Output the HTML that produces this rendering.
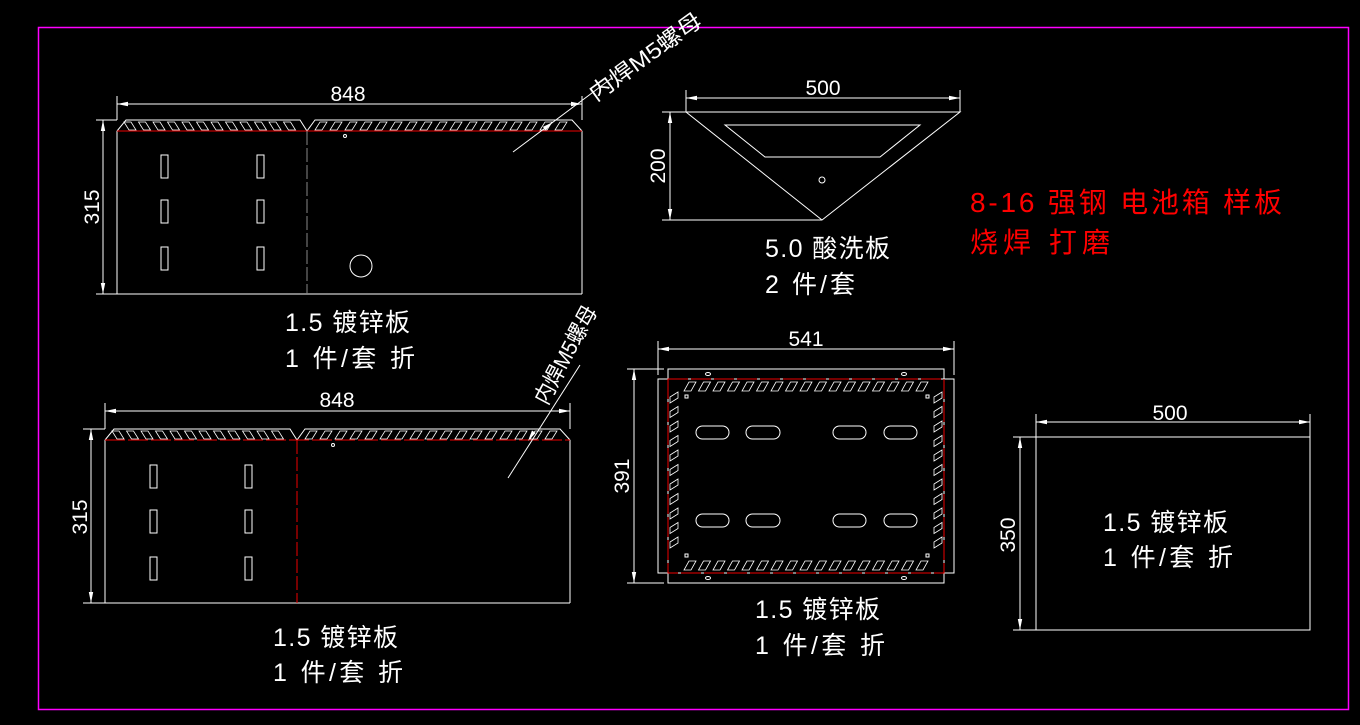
<!DOCTYPE html>
<html><head><meta charset="utf-8"><style>
html,body{margin:0;padding:0;background:#000;width:1360px;height:725px;overflow:hidden}
svg{display:block}
text{font-family:"Liberation Sans","Noto Sans CJK SC",sans-serif;fill:#fff}
</style></head><body>
<svg id="s" width="1360" height="725" viewBox="0 0 1360 725" xmlns="http://www.w3.org/2000/svg">
<rect x="0" y="0" width="1360" height="725" fill="#000"/>
<rect x="38.5" y="27.5" width="1310" height="682" fill="none" stroke="#ff00ff" stroke-width="1.5"/>
<g stroke="#fff" stroke-width="1" fill="none" id="w">
<polyline points="117,131 126,120 300,120 307,131 315,120 572,120 582,131"/>
<line x1="117" y1="131" x2="117" y2="294"/><line x1="582" y1="131" x2="582" y2="294"/>
<line x1="117" y1="294" x2="582" y2="294"/>
<line x1="117" y1="131" x2="582" y2="131" stroke="#e00"/>
<line x1="307" y1="131" x2="307" y2="294" stroke="#888" stroke-dasharray="14,3"/>
<rect x="161" y="155" width="7" height="23"/><rect x="257" y="155" width="7" height="23"/>
<rect x="161" y="200" width="7" height="23"/><rect x="257" y="200" width="7" height="23"/>
<rect x="161" y="247" width="7" height="23"/><rect x="257" y="247" width="7" height="23"/>
<circle cx="361" cy="266" r="11"/><circle cx="345" cy="136" r="1.5"/>
<line x1="117" y1="96" x2="117" y2="120"/><line x1="582" y1="96" x2="582" y2="120"/>
<line x1="117" y1="104" x2="582" y2="104"/>
<line x1="96" y1="120" x2="117" y2="120"/><line x1="96" y1="294" x2="117" y2="294"/>
<line x1="103" y1="120" x2="103" y2="294"/>
<line x1="513" y1="152" x2="612" y2="78"/>
<polyline points="105,440 114,429 290,429 297,440 305,429 560,429 570,440"/>
<line x1="105" y1="440" x2="105" y2="603"/><line x1="570" y1="440" x2="570" y2="603"/>
<line x1="105" y1="603" x2="570" y2="603"/>
<line x1="105" y1="440" x2="570" y2="440" stroke="#e00" stroke-dasharray="20,3"/>
<line x1="297" y1="440" x2="297" y2="603" stroke="#e00" stroke-dasharray="14,3"/>
<rect x="150" y="465" width="7" height="23"/><rect x="245" y="465" width="7" height="23"/>
<rect x="150" y="510" width="7" height="23"/><rect x="245" y="510" width="7" height="23"/>
<rect x="150" y="557" width="7" height="23"/><rect x="245" y="557" width="7" height="23"/>
<circle cx="333" cy="445" r="1.5"/>
<line x1="105" y1="403" x2="105" y2="429"/><line x1="570" y1="403" x2="570" y2="429"/>
<line x1="105" y1="411" x2="570" y2="411"/>
<line x1="83" y1="429" x2="105" y2="429"/><line x1="83" y1="603" x2="105" y2="603"/>
<line x1="91" y1="429" x2="91" y2="603"/>
<line x1="508" y1="478" x2="580" y2="365"/>
<polygon points="686,112 960,112 822,220"/>
<polygon points="725,125 920,125 880,157 765,157"/>
<circle cx="822" cy="180" r="3"/>
<line x1="686" y1="90" x2="686" y2="112"/><line x1="960" y1="90" x2="960" y2="112"/>
<line x1="686" y1="98" x2="960" y2="98"/>
<line x1="662" y1="112" x2="686" y2="112"/><line x1="662" y1="220" x2="822" y2="220"/>
<line x1="670" y1="112" x2="670" y2="220"/>
<rect x="668" y="369" width="276" height="214"/>
<rect x="658" y="379" width="296" height="194"/>
<rect x="668" y="379" width="276" height="194" stroke="#e00" stroke-dasharray="20,3"/>
<rect x="696" y="426" width="33" height="13" rx="6.5"/><rect x="746" y="426" width="34" height="13" rx="6.5"/>
<rect x="833" y="426" width="33" height="13" rx="6.5"/><rect x="884" y="426" width="33" height="13" rx="6.5"/>
<rect x="696" y="514" width="33" height="13" rx="6.5"/><rect x="746" y="514" width="34" height="13" rx="6.5"/>
<rect x="833" y="514" width="33" height="13" rx="6.5"/><rect x="884" y="514" width="33" height="13" rx="6.5"/>
<ellipse cx="708" cy="374" rx="2.5" ry="1.5"/><ellipse cx="904" cy="374" rx="2.5" ry="1.5"/>
<ellipse cx="708" cy="578" rx="2.5" ry="1.5"/><ellipse cx="904" cy="578" rx="2.5" ry="1.5"/>
<rect x="685" y="395" width="3" height="3"/><rect x="926" y="395" width="3" height="3"/>
<rect x="685" y="554" width="3" height="3"/><rect x="926" y="554" width="3" height="3"/>
<line x1="658" y1="341" x2="658" y2="375"/><line x1="954" y1="341" x2="954" y2="375"/>
<line x1="658" y1="349" x2="954" y2="349"/>
<line x1="627" y1="369" x2="664" y2="369"/><line x1="627" y1="583" x2="664" y2="583"/>
<line x1="634" y1="369" x2="634" y2="583"/>
<rect x="1036" y="437" width="274" height="193"/>
<line x1="1036" y1="414" x2="1036" y2="437"/><line x1="1310" y1="414" x2="1310" y2="437"/>
<line x1="1036" y1="422" x2="1310" y2="422"/>
<line x1="1013" y1="437" x2="1036" y2="437"/><line x1="1013" y1="630" x2="1036" y2="630"/>
<line x1="1020" y1="437" x2="1020" y2="630"/>
</g>
<g id="h" stroke="#fff" stroke-width="0.8" fill="none"></g>
<g id="a" fill="#fff"></g>
<g font-size="21">
<text x="348" y="101" text-anchor="middle">848</text>
<text x="337" y="407" text-anchor="middle">848</text>
<text x="823" y="95" text-anchor="middle">500</text>
<text x="806" y="346" text-anchor="middle">541</text>
<text x="1170" y="420" text-anchor="middle">500</text>
<text transform="translate(99,207) rotate(-90)" text-anchor="middle">315</text>
<text transform="translate(87,517) rotate(-90)" text-anchor="middle">315</text>
<text transform="translate(665,166) rotate(-90)" text-anchor="middle">200</text>
<text transform="translate(629,476) rotate(-90)" text-anchor="middle">391</text>
<text transform="translate(1015,535) rotate(-90)" text-anchor="middle">350</text>
</g>
<g font-size="22">
<text transform="translate(596,102) rotate(-36)" textLength="133" lengthAdjust="spacingAndGlyphs">内焊M5螺母</text>
<text transform="translate(547,406) rotate(-62)" textLength="108" lengthAdjust="spacingAndGlyphs">内焊M5螺母</text>
</g>
<g font-size="25">
<text x="285" y="331" textLength="125">1.5 镀锌板</text><text x="285" y="367" textLength="130">1 件/套 折</text>
<text x="273" y="646" textLength="125">1.5 镀锌板</text><text x="273" y="681" textLength="130">1 件/套 折</text>
<text x="755" y="618" textLength="125">1.5 镀锌板</text><text x="755" y="654" textLength="130">1 件/套 折</text>
<text x="1103" y="531" textLength="125">1.5 镀锌板</text><text x="1103" y="566" textLength="130">1 件/套 折</text>
<text x="765" y="257" textLength="125">5.0 酸洗板</text><text x="765" y="293" textLength="90">2 件/套</text>
</g>
<g font-size="28">
<text x="970" y="212" style="fill:#f00" textLength="312">8-16 强钢 电池箱 样板</text>
<text x="970" y="252" style="fill:#f00" textLength="140">烧焊 打磨</text>
</g>
</svg>
<script>
var ns="http://www.w3.org/2000/svg",h=document.getElementById('h'),a=document.getElementById('a');
function p(pts){var e=document.createElementNS(ns,'polygon');e.setAttribute('points',pts);h.appendChild(e);}
function hz(x0,x1,y0,y1,dir,step){for(var x=x0;x+12<=x1;x+=step){
 if(dir>0)p((x)+','+y0+' '+(x+7)+','+y0+' '+(x+12)+','+y1+' '+(x+5)+','+y1);
 else p((x+5)+','+y0+' '+(x+12)+','+y0+' '+(x+7)+','+y1+' '+(x)+','+y1);}}
hz(124,300,122,130,1,14.5);hz(315,572,122,130,-1,15);
hz(112,290,431,439,1,14.5);hz(305,560,431,439,-1,15);
hz(684,928,382,391,-1,14.5);hz(684,928,561,570,-1,14.5);
function vt(x0,x1,y0,y1,step){for(var y=y0;y+12<=y1;y+=step){p(x0+','+(y+11)+' '+x0+','+(y+5)+' '+x1+','+y+' '+x1+','+(y+6));}}
vt(670,678,392,560,14.5);vt(934,942,392,560,14.5);
function ar(x,y,ang){var e=document.createElementNS(ns,'polygon');e.setAttribute('points','0,0 -11,-2.2 -11,2.2');e.setAttribute('transform','translate('+x+','+y+') rotate('+ang+')');a.appendChild(e);}
ar(117,104,180);ar(582,104,0);ar(103,120,-90);ar(103,294,90);
ar(105,411,180);ar(570,411,0);ar(91,429,-90);ar(91,603,90);
ar(686,98,180);ar(960,98,0);ar(670,112,-90);ar(670,220,90);
ar(658,349,180);ar(954,349,0);ar(634,369,-90);ar(634,583,90);
ar(1036,422,180);ar(1310,422,0);ar(1020,437,-90);ar(1020,630,90);
ar(553,122,-37);ar(528,441,122);
</script>
</body></html>
